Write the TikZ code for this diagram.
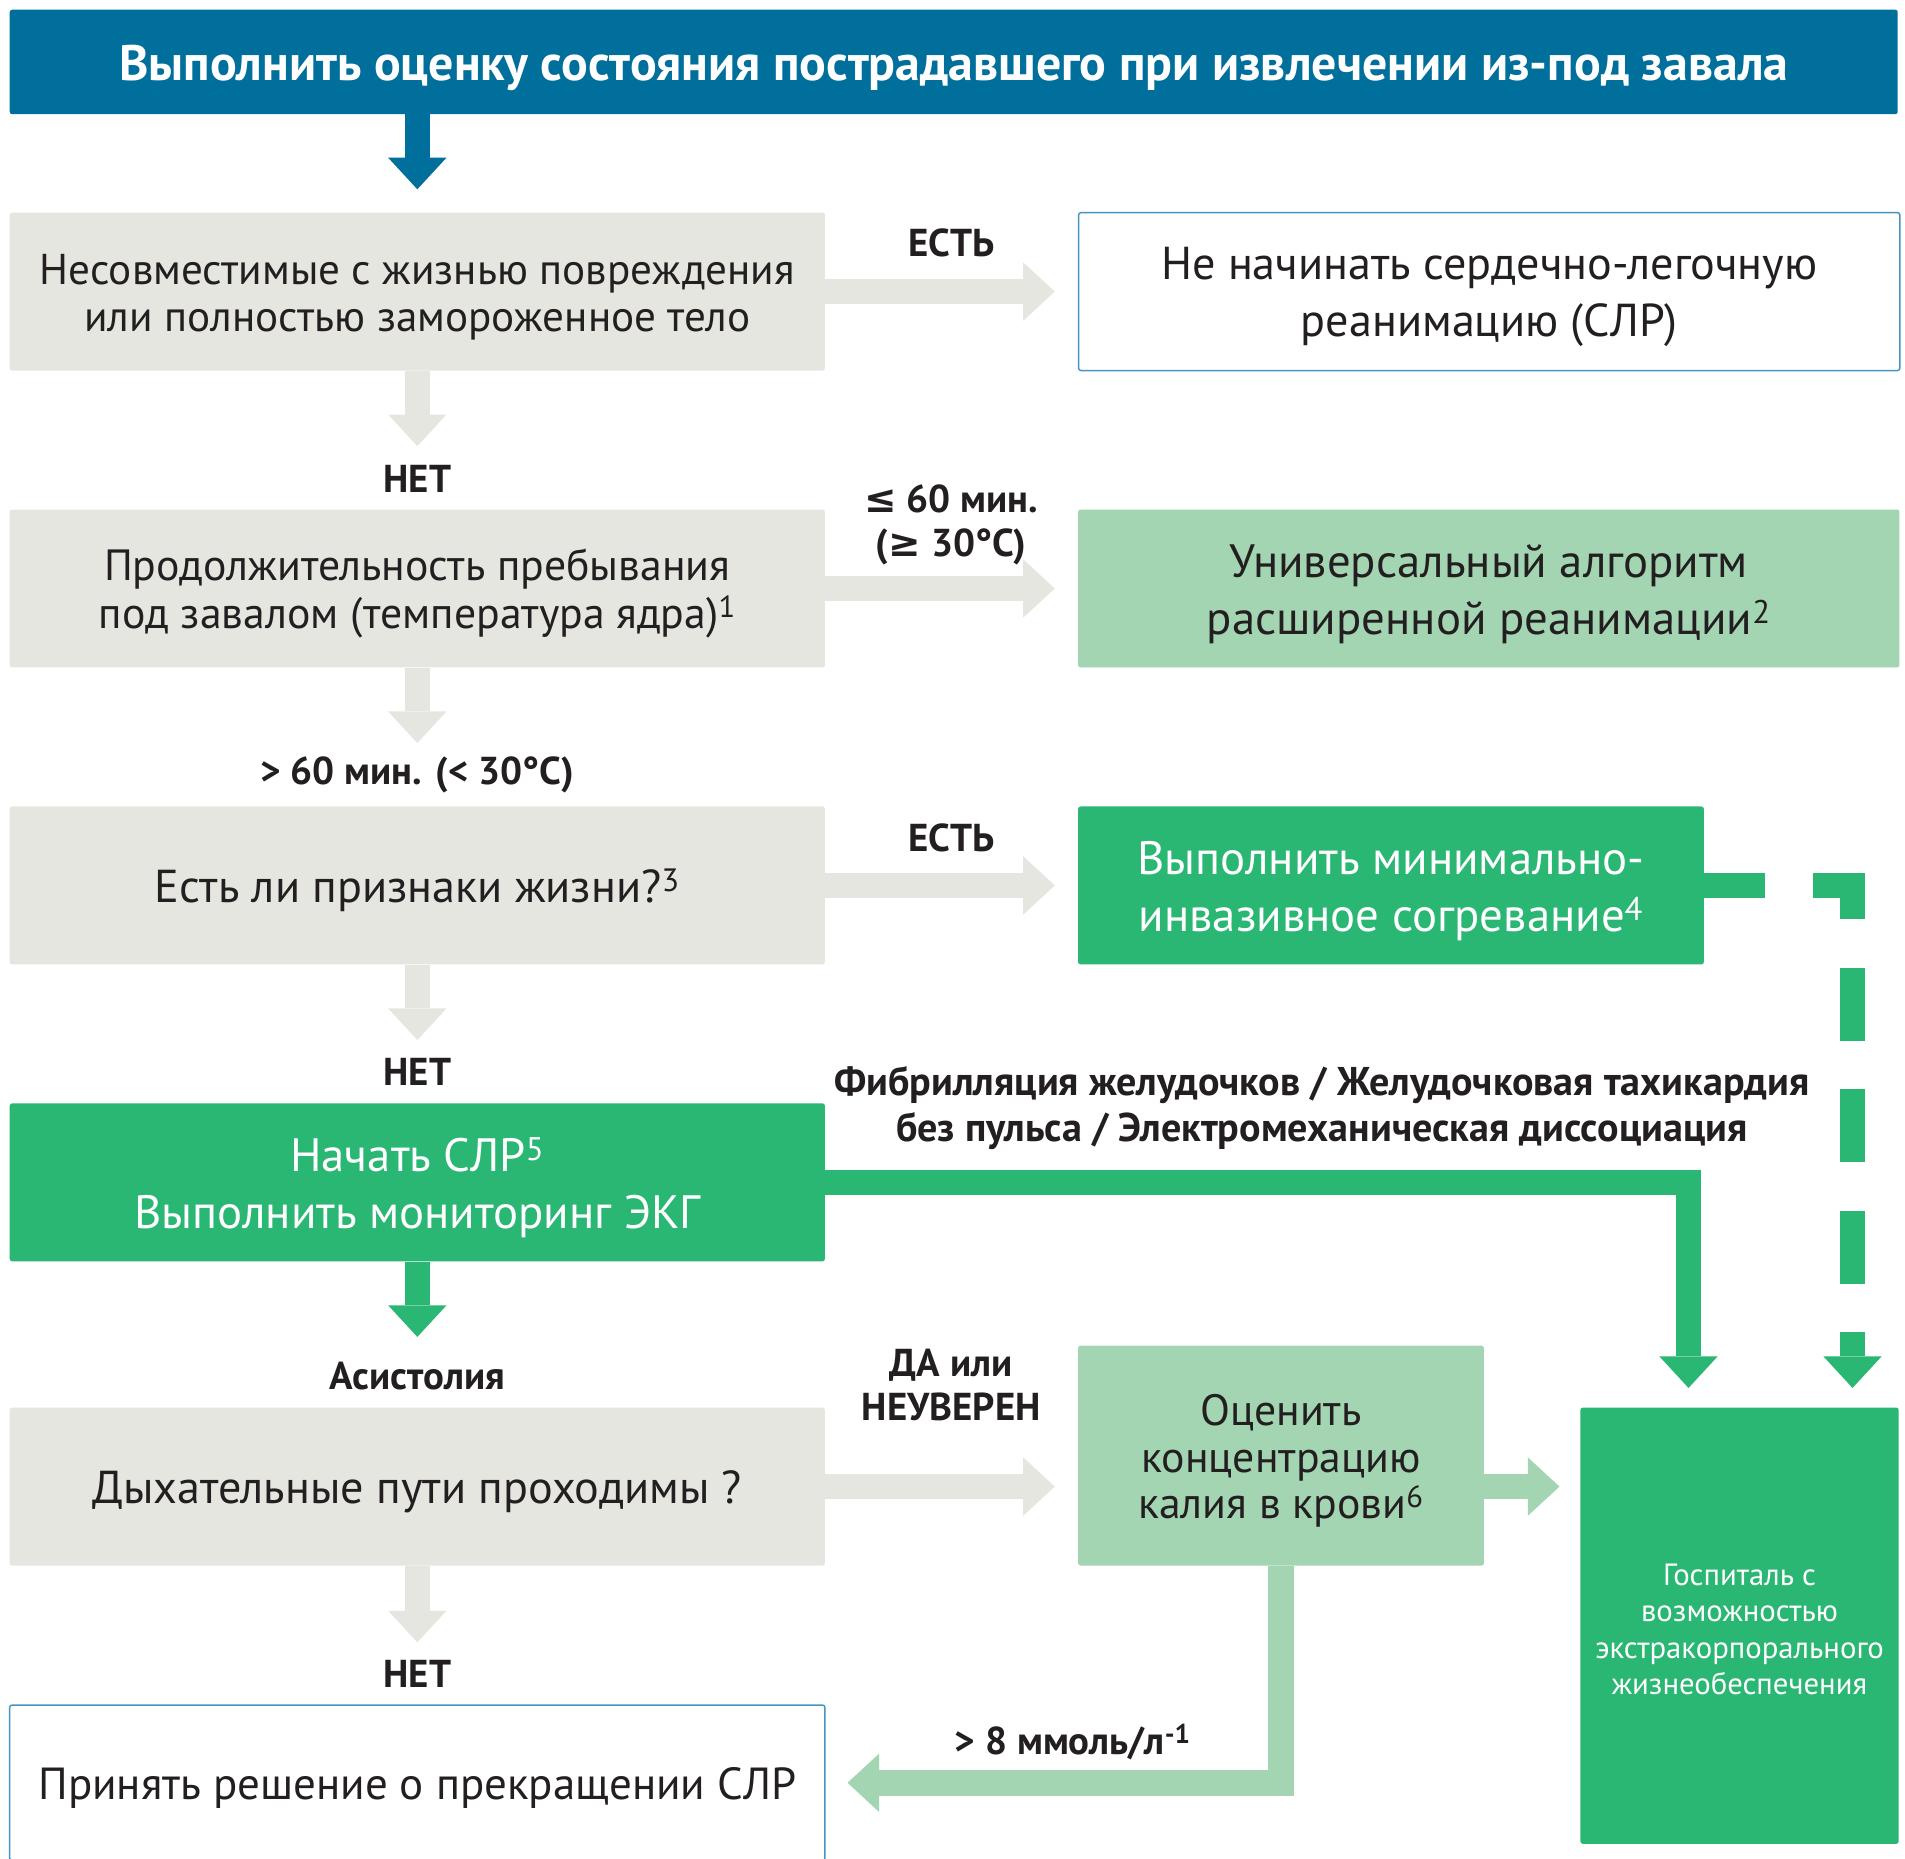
\documentclass[tikz,border=0pt]{standalone}
\usepackage{fontspec}
\setmainfont{PT Sans}
\newfontfamily\symfont{DejaVu Sans}
\usetikzlibrary{positioning,calc,arrows.meta}
\definecolor{banner}{RGB}{0,111,156}
\definecolor{grey}{RGB}{230,230,225}
\definecolor{mint}{RGB}{163,213,179}
\definecolor{leaf}{RGB}{42,182,115}
\definecolor{frame}{RGB}{70,150,195}
\definecolor{ink}{RGB}{35,31,32}

\begin{document}
\begin{tikzpicture}[x=1pt, y=-1pt, node distance=114pt and 208pt, rows/.initial=1,
    box/.style={rectangle, rounded corners=2pt, minimum width=671pt, minimum height=130pt,
      inner sep=0pt, align=center, text=ink, font=\fontsize{35.5}{39}\selectfont,
      execute at begin node={\rule{0pt}{\dimexpr\pgfkeysvalueof{/tikz/rows}\baselineskip-\baselineskip+0.95em\relax}}},
    grey box/.style={box, fill=grey},
    white box/.style={box, draw=frame, line width=1.2pt, fill=white, font=\fontsize{38}{47}\selectfont},
    mint box/.style={box, fill=mint, font=\fontsize{38.5}{47}\selectfont},
    leaf box/.style={box, fill=leaf, text=white, font=\fontsize{38.5}{47}\selectfont},
    lbl/.style={align=center, text=ink, inner sep=0pt, font=\bfseries\fontsize{32}{36}\selectfont},
    flow/.style={line width=21pt, -{Triangle[length=26pt, width=48pt, line width=0pt]}}]
  \useasboundingbox[fill=white] (0,0) rectangle (1568,1530);

  \node[box, fill=banner, minimum width=1554pt, minimum height=86pt, text=white,
    font=\bfseries\fontsize{41}{44}\selectfont] (top) at (785,51)
    {Выполнить оценку состояния пострадавшего при извлечении из-под завала};

  \node[grey box, rows=2] (incomp) at (343.5,240) {Несовместимые с жизнью повреждения\\или полностью замороженное тело};
  \node[white box, rows=2, minimum width=676pt, right=of incomp] (nocpr) {Не начинать сердечно-легочную\\реанимацию (СЛР)};
  \node[grey box, rows=2, font=\fontsize{36}{39}\selectfont, below=of incomp] (duration) {Продолжительность пребывания\\под завалом (температура ядра)\textsuperscript{1}};
  \node[mint box, rows=2, minimum width=676pt, right=of duration] (als) {Универсальный алгоритм\\расширенной реанимации\textsuperscript{2}};
  \node[grey box, font=\fontsize{38}{39}\selectfont, below=of duration] (signs) {Есть ли признаки жизни?\textsuperscript{3}};
  \node[leaf box, rows=2, minimum width=515pt, right=of signs] (rewarm) {Выполнить минимально-\\инвазивное согревание\textsuperscript{4}};
  \node[leaf box, rows=2, below=of signs] (startcpr) {Начать СЛР\textsuperscript{5}\\Выполнить мониторинг ЭКГ};
  \node[grey box, font=\fontsize{38}{39}\selectfont, below=120pt of startcpr] (airway) {Дыхательные пути проходимы ?};
  \node[mint box, rows=3, minimum width=334pt, minimum height=181pt, font=\fontsize{36}{38}\selectfont,
    right=208pt of airway.south east, anchor=south west] (potassium) {Оценить\\концентрацию\\калия в крови\textsuperscript{6}};
  \node[leaf box, rows=4, minimum width=262pt, minimum height=359pt, font=\fontsize{25.3}{30}\selectfont,
    anchor=north west] (hospital) at ($(potassium.east |- airway.north)+(79,0)$)
    {Госпиталь с\\возможностью\\экстракорпорального\\жизнеобеспечения};
  \node[white box, minimum height=128pt, font=\fontsize{37}{47}\selectfont, below=of airway] (stop) {Принять решение о прекращении СЛР};

  \node[lbl] (yes1) at (783,200) {ЕСТЬ};
  \node[lbl] (no1) at (343.5,394) {НЕТ};
  \node[lbl] (le60) at (783,432) {{\symfont\bfseries ≤} 60 мин.\\({\symfont\bfseries ≥} 30°C)};
  \node[lbl] (gt60) at (343.5,638) {> 60 мин. (< 30°C)};
  \node[lbl] (yes2) at (783,690) {ЕСТЬ};
  \node[lbl] (no2) at (343.5,882) {НЕТ};
  \node[lbl, font=\bfseries\fontsize{33}{38}\selectfont] (rhythm) at (1088,912)
    {Фибрилляция желудочков / Желудочковая тахикардия\\без пульса / Электромеханическая диссоциация};
  \node[lbl] (asys) at (343.5,1133) {Асистолия};
  \node[lbl] (unsure) at (783,1140) {ДА или\\НЕУВЕРЕН};
  \node[lbl] (no3) at (343.5,1378) {НЕТ};
  \node[lbl] (kplus) at (883,1434) {> 8 ммоль/л\textsuperscript{-1}};

  \draw[flow, banner, shorten >=19pt] (incomp.north |- top.south) -- (incomp.north);
  \draw[flow, grey, shorten >=19pt] (incomp) -- (nocpr);
  \draw[flow, grey, shorten >=52pt] (incomp) -- (duration);
  \draw[flow, grey, shorten >=19pt] (duration) -- (als);
  \draw[flow, grey, shorten >=52pt] (duration) -- (signs);
  \draw[flow, grey, shorten >=19pt] (signs) -- (rewarm);
  \draw[flow, grey, shorten >=52pt] (signs) -- (startcpr);
  \draw[flow, leaf, shorten >=58pt] (startcpr) -- (airway);
  \draw[flow, leaf, shorten >=16pt] (startcpr.east) -| ([xshift=-42pt]hospital.north);
  \draw[flow, leaf, dash pattern=on 60pt off 40pt, dash phase=10pt, shorten >=16pt]
    (rewarm.east) -| ([xshift=93pt]hospital.north);
  \draw[flow, grey, shorten >=19pt] (airway) -- (potassium.west |- airway.east);
  \draw[flow, mint, shorten >=17pt] (potassium.east |- airway.east) -- (hospital.west |- airway.east);
  \draw[flow, mint, shorten >=18pt] (potassium.south) |- (stop.east);
  \draw[flow, grey, shorten >=51pt] (airway) -- (stop);
\end{tikzpicture}
\end{document}
